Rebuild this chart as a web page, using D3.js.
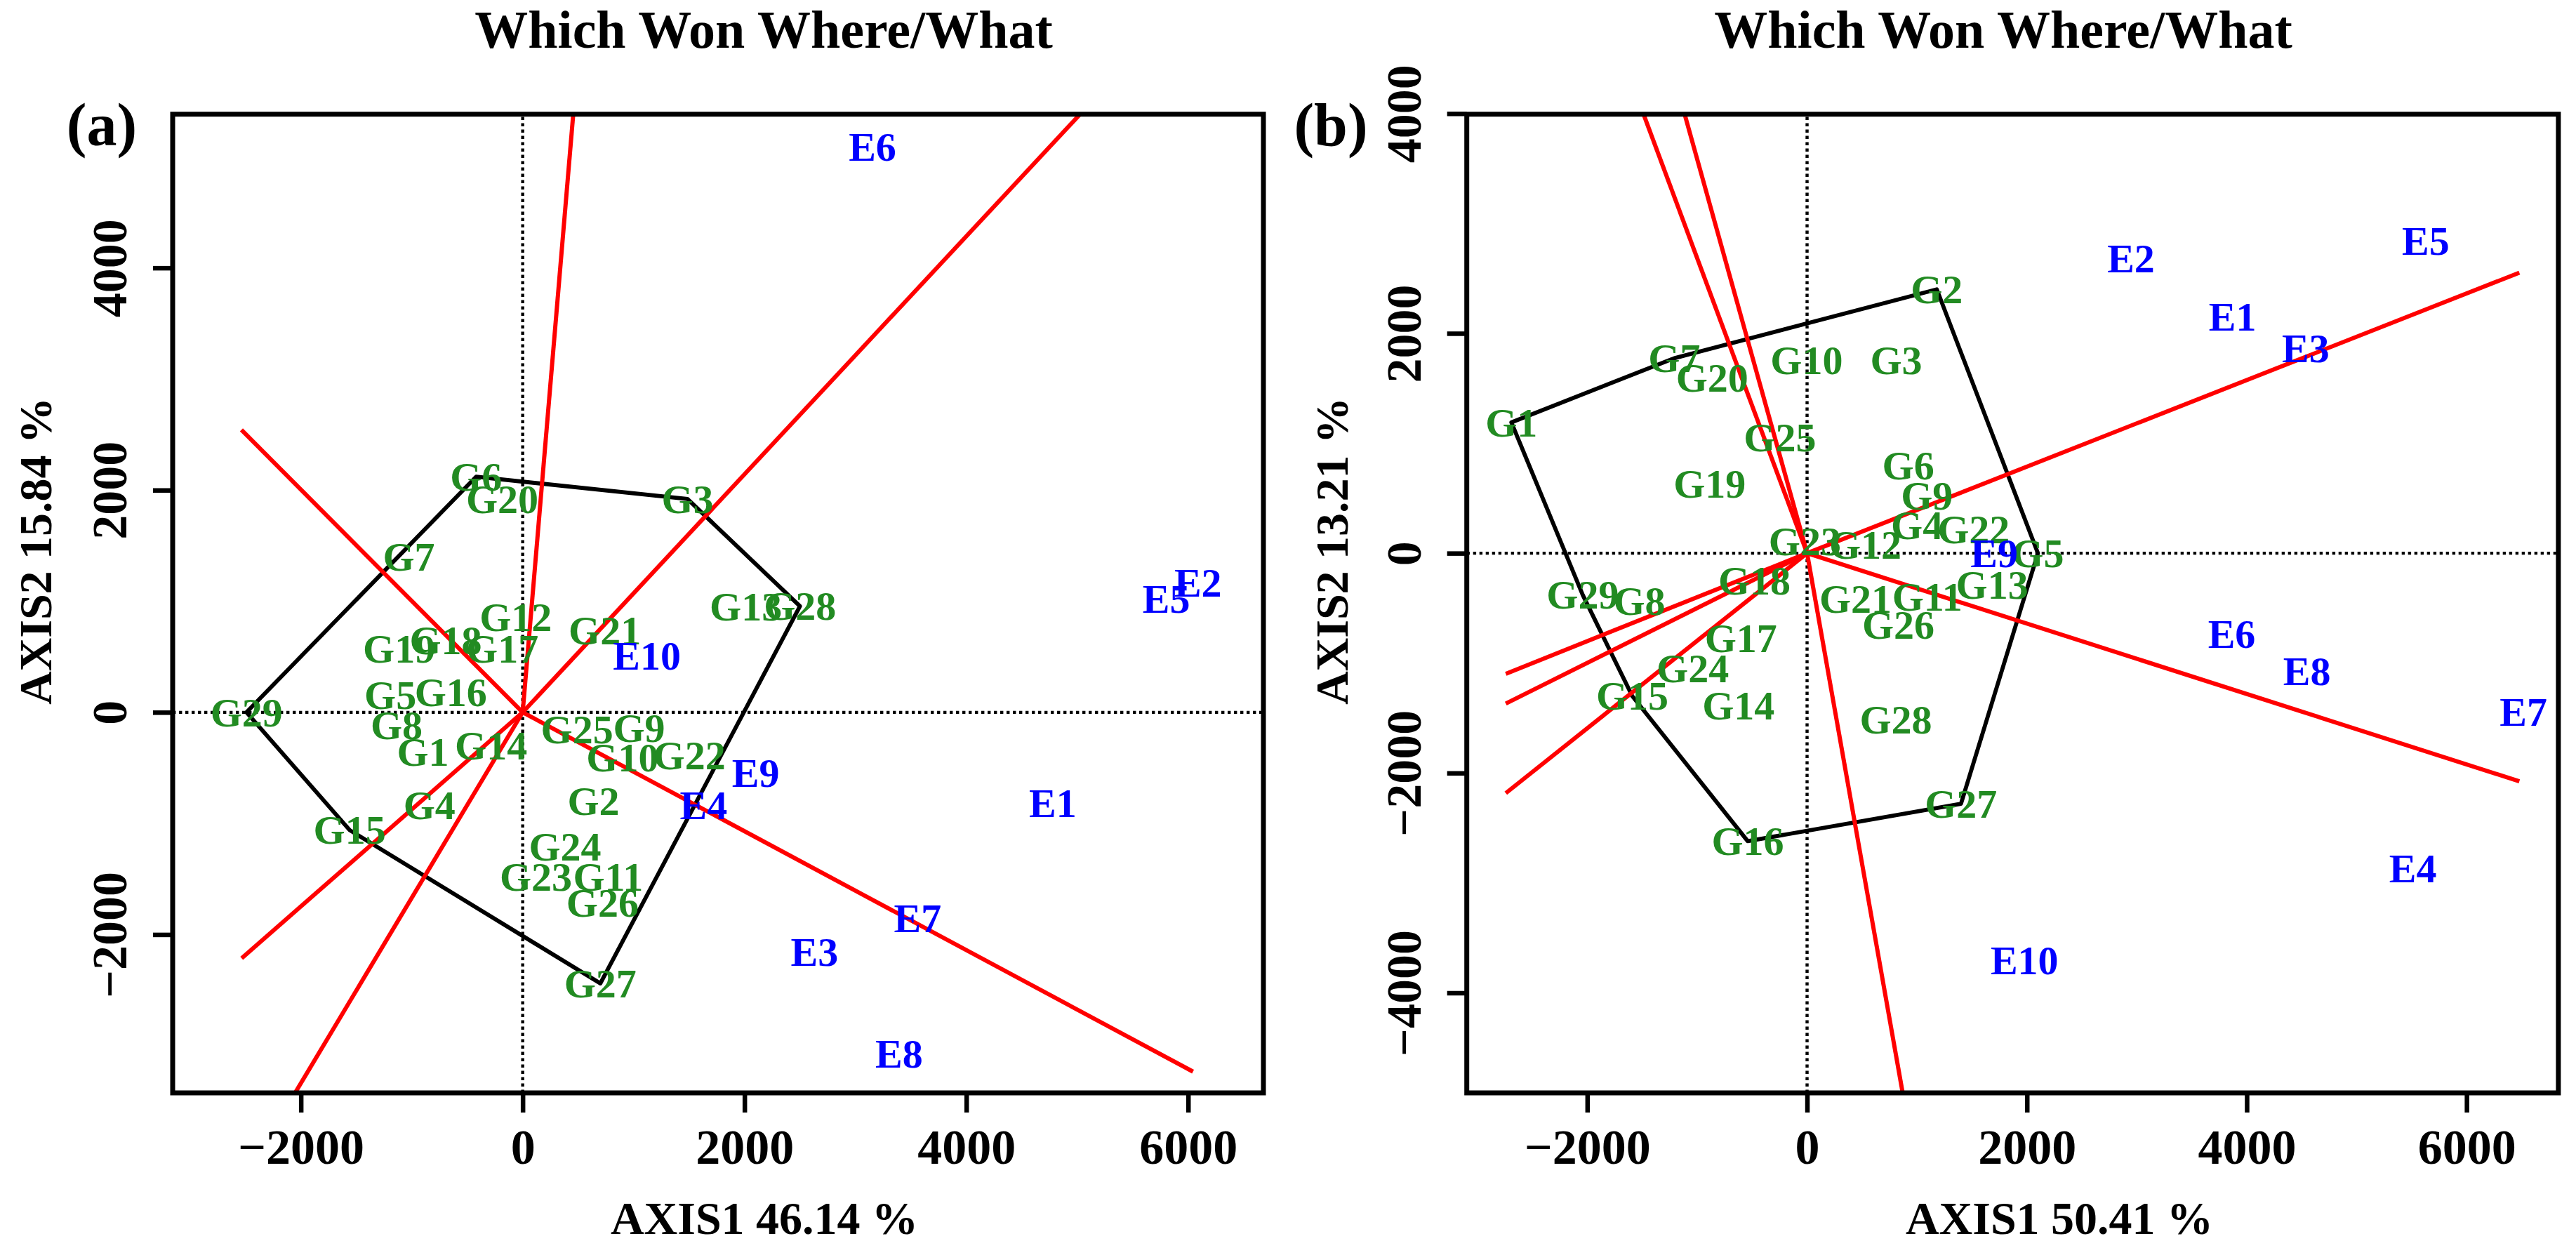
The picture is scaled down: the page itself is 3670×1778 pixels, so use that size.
<!DOCTYPE html>
<html><head><meta charset="utf-8">
<script src="https://cdn.jsdelivr.net/npm/d3@7"></script>
<style>
body{margin:0;background:#fff}
svg text{font-family:"Liberation Serif","Times New Roman",serif;font-weight:bold}
</style>
</head><body><svg id="chart" width="3670" height="1778"></svg>
<script>
// ---------- data ----------
const genotypes = ["G1","G2","G3","G4","G5","G6","G7","G8","G9","G10","G11","G12","G13","G14","G15","G16","G17","G18","G19","G20","G21","G22","G23","G24","G25","G26","G27","G28","G29"];
const environments = ["E1","E2","E3","E4","E5","E6","E7","E8","E9","E10"];

// panel (a)
const gxA = [-900,638,1486,-841,-1193,-420,-1026,-1137,1050,900,770,-63,2012,-285,-1560,-648,-184,-694,-1114,-185,740,1503,119,382,490,720,700,2500,-2490];
const gyA = [-358,-799,1920,-834,158,2120,1397,-118,-140,-405,-1479,859,949,-297,-1060,179,573,645,573,1916,735,-387,-1479,-1211,-154,-1712,-2440,955,0];
const exA = [4780,6089,2631,1631,5803,3154,3561,3394,2101,1120];
const eyA = [-817,1164,-2160,-834,1021,5086,-1855,-3073,-548,510];
const hullA = ["G29","G6","G3","G28","G27","G15"];
const rayEndXA = [-2536,547,5528,6044,-2454,-2534];
const rayEndYA = [2542,6460,5921,-3234,-4096,-2213];

// panel (b)
const gxB = [-2690,1180,811,1000,2100,920,-1208,-1526,1090,-4,1093,530,1683,-624,-1590,-540,-602,-479,-886,-864,440,1515,-20,-1040,-247,830,1400,808,-2041];
const gyB = [1190,2400,1756,253,0,796,1774,-434,525,1756,-398,75,-290,-1387,-1300,-2620,-771,-253,633,1593,-417,217,110,-1050,1050,-650,-2280,-1513,-380];
const exB = [3870,2947,4536,5512,5628,3863,6517,4547,1702,1978];
const eyB = [2154,2679,1864,-2871,2842,-735,-1441,-1072,0,-3704];
const hullB = ["G1","G7","G2","G5","G27","G16","G15","G29"];
const rayEndXB = [-1711,-1281,6480,6480,954,-2741,-2741,-2741];
const rayEndYB = [4593,4593,2552,-2075,-5387,-2183,-1368,-1097];

const xTicks = [-2000,0,2000,4000,6000];
const yTicksA = [-2000,0,2000,4000];
const yTicksB = [-4000,-2000,0,2000,4000];
const mainTitle = "Which Won Where/What";

// ---------- drawing ----------
const svg = d3.select("#chart");

function panel(cfg){
  const x = d3.scaleLinear().domain(cfg.xDomain).range(cfg.xRange);
  const y = d3.scaleLinear().domain(cfg.yDomain).range(cfg.yRange);
  const g = svg.append("g");
  const clipId = "clip-" + cfg.id;
  svg.append("defs").append("clipPath").attr("id", clipId)
    .append("rect").attr("x", cfg.xRange[0]).attr("y", cfg.yRange[1])
    .attr("width", cfg.xRange[1]-cfg.xRange[0]).attr("height", cfg.yRange[0]-cfg.yRange[1]);
  const inner = g.append("g").attr("clip-path", `url(#${clipId})`);

  // dotted reference axes
  inner.append("line").attr("x1", x(0)).attr("x2", x(0)).attr("y1", cfg.yRange[0]).attr("y2", cfg.yRange[1])
    .attr("stroke","#000").attr("stroke-width",4.4).attr("stroke-dasharray","4.4 4.6");
  inner.append("line").attr("y1", y(0)).attr("y2", y(0)).attr("x1", cfg.xRange[0]).attr("x2", cfg.xRange[1])
    .attr("stroke","#000").attr("stroke-width",4.4).attr("stroke-dasharray","4.4 4.6");

  // hull polygon
  const hullPts = cfg.hull.map(n => { const i = genotypes.indexOf(n); return [x(cfg.gx[i]), y(cfg.gy[i])]; });
  inner.append("path").attr("d", d3.line()(hullPts) + "Z")
    .attr("fill","none").attr("stroke","#000").attr("stroke-width",5.8).attr("stroke-linejoin","round");

  // rays
  inner.selectAll("line.ray").data(cfg.rayX.map((v,i)=>[v,cfg.rayY[i]])).enter().append("line")
    .attr("class","ray")
    .attr("x1", x(0)).attr("y1", y(0)).attr("x2", d=>x(d[0])).attr("y2", d=>y(d[1]))
    .attr("stroke","#ff0000").attr("stroke-width",6);

  // labels
  g.selectAll("text.gen").data(genotypes).enter().append("text").attr("class","gen")
    .attr("x",(d,i)=>x(cfg.gx[i])).attr("y",(d,i)=>y(cfg.gy[i])).attr("dy","0.34em")
    .attr("text-anchor","middle").attr("font-size",58).attr("fill","#228B22").text(d=>d);
  g.selectAll("text.env").data(environments).enter().append("text").attr("class","env")
    .attr("x",(d,i)=>x(cfg.ex[i])).attr("y",(d,i)=>y(cfg.ey[i])).attr("dy","0.34em")
    .attr("text-anchor","middle").attr("font-size",58).attr("fill","#0000ff").text(d=>d);

  // box
  g.append("rect").attr("x", cfg.xRange[0]).attr("y", cfg.yRange[1])
    .attr("width", cfg.xRange[1]-cfg.xRange[0]).attr("height", cfg.yRange[0]-cfg.yRange[1])
    .attr("fill","none").attr("stroke","#000").attr("stroke-width",7);

  // axes
  const fmt = d => d < 0 ? "\u2212" + Math.abs(d) : String(d);
  const ax = g.append("g").attr("transform",`translate(0,${cfg.yRange[0]})`)
    .call(d3.axisBottom(x).tickValues(xTicks).tickSize(28).tickPadding(23).tickFormat(fmt));
  ax.select(".domain").remove();
  ax.selectAll("line").attr("stroke","#000").attr("stroke-width",6.5);
  ax.selectAll("text").attr("font-size",70).attr("fill","#000").attr("font-family",null);

  const ay = g.append("g").attr("transform",`translate(${cfg.xRange[0]},0)`)
    .call(d3.axisLeft(y).tickValues(cfg.yTicks).tickSize(28).tickFormat(fmt));
  ay.select(".domain").remove();
  ay.selectAll("line").attr("stroke","#000").attr("stroke-width",6.5);
  ay.selectAll("text").attr("font-size",70).attr("fill","#000").attr("font-family",null)
    .attr("x",0).attr("y",-66).attr("dy",null).attr("text-anchor","middle").attr("transform","rotate(-90)");

  // titles
  g.append("text").attr("x",cfg.titleX).attr("y",68).attr("text-anchor","middle").attr("font-size",76).text(mainTitle);
  g.append("text").attr("x",cfg.xlabX).attr("y",1758).attr("text-anchor","middle").attr("font-size",66).text(cfg.xlab);
  g.append("text").attr("transform",`translate(${cfg.ylabX},785) rotate(-90)`).attr("text-anchor","middle").attr("font-size",66).text(cfg.ylab);
  g.append("text").attr("x",cfg.tagX).attr("y",207).attr("text-anchor","middle").attr("font-size",86).text(cfg.tag);
}

panel({id:"a", xDomain:[-3156,6679], xRange:[246,1800], yDomain:[-3425,5383], yRange:[1557,162.7],
  gx:gxA, gy:gyA, ex:exA, ey:eyA, hull:hullA, rayX:rayEndXA, rayY:rayEndYA, yTicks:yTicksA,
  titleX:1088, xlabX:1089, xlab:"AXIS1 46.14 %", ylabX:73, ylab:"AXIS2 15.84 %", tagX:145, tag:"(a)"});
panel({id:"b", xDomain:[-3096,6835], xRange:[2089.7,3644.9], yDomain:[-4910,3994], yRange:[1557,162.7],
  gx:gxB, gy:gyB, ex:exB, ey:eyB, hull:hullB, rayX:rayEndXB, rayY:rayEndYB, yTicks:yTicksB,
  titleX:2854, xlabX:2934, xlab:"AXIS1 50.41 %", ylabX:1920, ylab:"AXIS2 13.21 %", tagX:1896, tag:"(b)"});
</script>
</body></html>
